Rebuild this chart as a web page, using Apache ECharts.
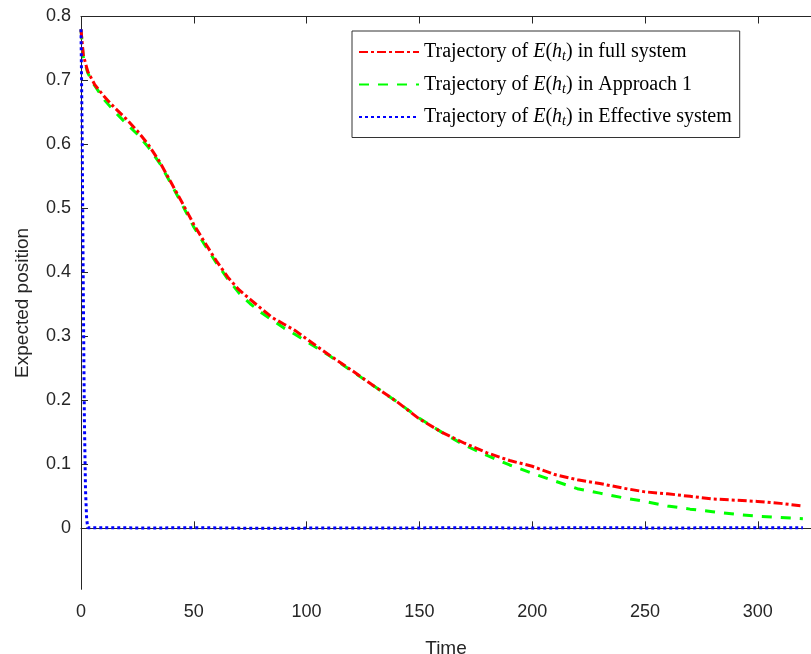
<!DOCTYPE html>
<html lang="en">
<head>
    <meta charset="UTF-8">
    <title>expected position</title>
    <script src="https://cdn.jsdelivr.net/npm/echarts@6/dist/echarts.min.js"></script>
    <style>
        html, body { margin: 0; padding: 0; background: #fff; }
        #main { width: 811px; height: 654px; }
    </style>
</head>
<body>
<div id="main"></div>
<script>
    // values
    var fullT = [0, 1, 3, 6, 10, 15, 20, 25, 30, 35, 40, 45, 50, 55, 60, 65, 70, 75, 80, 85, 90, 95, 100,
        110, 120, 130, 140, 150, 160, 170, 180, 190, 200, 210, 220, 230, 240, 250, 260, 270, 280, 290, 300, 310, 320];
    var fullV = [0.78, 0.74, 0.714, 0.694, 0.676, 0.657, 0.64, 0.621, 0.599, 0.572, 0.54, 0.508, 0.475, 0.446, 0.418,
        0.393, 0.373, 0.358, 0.343, 0.329, 0.319, 0.309, 0.296,
        0.271, 0.247, 0.222, 0.198, 0.171, 0.15, 0.133, 0.118, 0.106, 0.097, 0.084, 0.076, 0.07, 0.063, 0.057,
        0.054, 0.05, 0.046, 0.044, 0.042, 0.039, 0.035];

    var apprT = [0, 1, 3, 5, 10, 15, 20, 25, 30, 35, 40, 45, 50, 55, 60, 65, 70, 75, 80, 85, 90, 95, 100,
        110, 120, 130, 140, 150, 160, 170, 180, 190, 200, 210, 220, 230, 240, 250, 260, 270, 280, 290, 300, 310, 320];
    var apprV = [0.78, 0.737, 0.712, 0.698, 0.671, 0.651, 0.633, 0.616, 0.595, 0.57, 0.538, 0.505, 0.471, 0.442, 0.415,
        0.39, 0.368, 0.351, 0.337, 0.325, 0.313, 0.303, 0.292,
        0.27, 0.246, 0.222, 0.198, 0.172, 0.15, 0.13, 0.114, 0.099, 0.086, 0.074, 0.062, 0.055, 0.048, 0.042,
        0.035, 0.03, 0.026, 0.022, 0.019, 0.017, 0.015];

    var effT = [0, 0.5, 1, 1.5, 2, 2.5, 3, 10, 30, 50, 80, 110, 140, 170, 200, 230, 260, 290, 320];
    var effV = [0.78, 0.62, 0.38, 0.17, 0.06, 0.015, 0.001, 0.001, 0.0005, 0.001, 0, 0.0005, 0.0005, 0.001, 0.0005,
        0.001, 0.0005, 0.001, 0.001];

    var xTicks = [0, 50, 100, 150, 200, 250, 300];
    var yTicks = [0, 0.1, 0.2, 0.3, 0.4, 0.5, 0.6, 0.7, 0.8];

    function pairs(t, v) {
        var out = [];
        for (var i = 0; i < t.length; i++) {
            out.push([t[i], v[i]]);
        }
        return out;
    }

    var axisColor = '#262626';
    var sansFont = '"Liberation Sans", Arial, sans-serif';
    var serifFont = '"Liberation Serif", "DejaVu Serif", serif';

    var myChart = echarts.init(document.getElementById('main'));

    var option = {
        animation: false,
        grid: { left: 81, right: 0, top: 16.5, bottom: 64.7, outerBoundsMode: 'none', containLabel: false },
        legend: {
            orient: 'vertical',
            left: 352,
            top: 31,
            width: 389,
            padding: [11, 8, 9, 6],
            itemWidth: 60,
            itemHeight: 20,
            itemGap: 11,
            backgroundColor: '#fff',
            borderColor: '#333',
            borderWidth: 1,
            itemStyle: { opacity: 0 },
            formatter: function (name) {
                var parts = name.split('|');
                return 'Trajectory of {i|E}({i|h}{s|t}) in ' + parts[1];
            },
            textStyle: {
                fontFamily: serifFont,
                fontSize: 20,
                color: '#000',
                rich: {
                    i: { fontFamily: serifFont, fontSize: 20, fontStyle: 'italic', color: '#000' },
                    s: { fontFamily: serifFont, fontSize: 14, fontStyle: 'italic', color: '#000',
                        verticalAlign: 'bottom', padding: [9, 0, 0, 0] }
                }
            }
        },
        xAxis: [{
            type: 'value',
            min: 0,
            max: 323.6,
            name: 'Time',
            nameLocation: 'middle',
            nameGap: 50,
            nameTextStyle: { fontFamily: sansFont, fontSize: 19, color: axisColor },
            axisLine: { lineStyle: { color: axisColor, width: 1 } },
            axisTick: { inside: true, length: 7, customValues: xTicks, lineStyle: { color: axisColor } },
            axisLabel: { fontFamily: sansFont, fontSize: 18, color: axisColor, margin: 14, customValues: xTicks },
            splitLine: { show: false }
        }, {
            type: 'value',
            position: 'top',
            min: 0,
            max: 323.6,
            axisLine: { show: true, lineStyle: { color: axisColor, width: 1 } },
            axisTick: { show: true, inside: true, length: 7, customValues: xTicks, lineStyle: { color: axisColor } },
            axisLabel: { show: false },
            splitLine: { show: false }
        }],
        yAxis: {
            type: 'value',
            min: -0.0953,
            max: 0.8,
            name: 'Expected position',
            nameLocation: 'middle',
            nameRotate: 90,
            nameGap: 49,
            nameTextStyle: { fontFamily: sansFont, fontSize: 19, color: axisColor },
            axisLine: { show: true, lineStyle: { color: axisColor, width: 1 } },
            axisTick: { show: true, inside: true, length: 7, customValues: yTicks, lineStyle: { color: axisColor } },
            axisLabel: { fontFamily: sansFont, fontSize: 18, color: axisColor, margin: 10, customValues: yTicks },
            splitLine: { show: false }
        },
        series: [{
            name: 'a|full system',
            type: 'line',
            showSymbol: false,
            symbol: 'none',
            data: pairs(fullT, fullV),
            lineStyle: { color: '#ff0000', width: 3, type: [9, 3, 3, 3] },
            itemStyle: { color: '#ff0000' },
            z: 3
        }, {
            name: 'b|Approach 1',
            type: 'line',
            showSymbol: false,
            symbol: 'none',
            data: pairs(apprT, apprV),
            lineStyle: { color: '#00ff00', width: 3, type: [10, 9] },
            itemStyle: { color: '#00ff00' },
            z: 2
        }, {
            name: 'c|Effective system',
            type: 'line',
            showSymbol: false,
            symbol: 'none',
            data: pairs(effT, effV),
            lineStyle: { color: '#0000ff', width: 3, type: [3, 3] },
            itemStyle: { color: '#0000ff' },
            z: 4
        }]
    };

    myChart.setOption(option);
</script>
</body>
</html>
